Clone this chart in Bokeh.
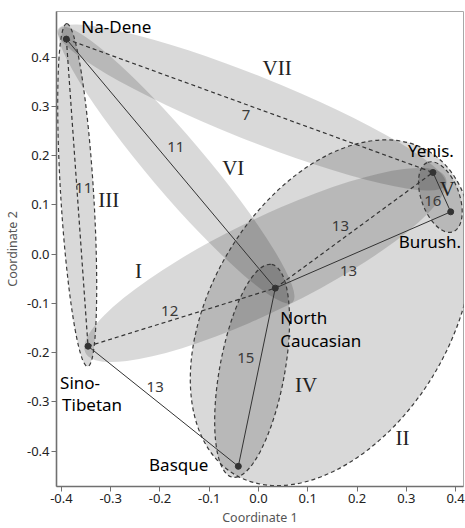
import math
from bokeh.plotting import figure
from bokeh.models import ColumnDataSource, Range1d, FixedTicker, NumeralTickFormatter
from bokeh.core.properties import value
from bokeh.embed import file_html
from bokeh.resources import INLINE

# ---------------- data ----------------
lang_names = ["Na-Dene", "Yenis.", "Burush.", "North Caucasian", "Basque", "Sino-Tibetan"]
coord1 = [-0.390, 0.354, 0.390, 0.034, -0.041, -0.346]
coord2 = [0.437, 0.166, 0.086, -0.069, -0.431, -0.187]

edge_from = ["Na-Dene", "Na-Dene", "Na-Dene", "Sino-Tibetan", "Sino-Tibetan",
             "Basque", "North Caucasian", "North Caucasian", "Yenis."]
edge_to = ["Yenis.", "North Caucasian", "Sino-Tibetan", "North Caucasian", "Basque",
           "North Caucasian", "Burush.", "Yenis.", "Burush."]
edge_weight = [7, 11, 11, 12, 13, 15, 13, 13, 16]
edge_dashed = [True, False, True, True, False, False, False, True, False]

group_names = ["I", "II", "III", "IV", "V", "VI", "VII"]
group_c1 = [0.014, 0.148, -0.368, -0.013, 0.369, -0.167, -0.014]
group_c2 = [-0.022, -0.119, 0.120, -0.237, 0.116, 0.181, 0.298]
group_len = [0.813, 0.765, 0.697, 0.439, 0.150, 0.730, 0.848]
group_wid = [0.187, 0.486, 0.067, 0.132, 0.077, 0.114, 0.130]
group_angle_deg = [26.0, 59.0, 93.5, 79.6, 110.0, -49.7, -21.8]
group_outlined = [False, True, True, True, True, False, False]

x_ticks = [-0.4, -0.3, -0.2, -0.1, 0.0, 0.1, 0.2, 0.3, 0.4]
y_ticks = [-0.4, -0.3, -0.2, -0.1, 0.0, 0.1, 0.2, 0.3, 0.4]

# ---------------- layout (pixel offsets for labels) ----------------
PX = 493.0  # approx. pixels per data unit (both axes)
lang_label_lines = [  # text, language, dx, dy (screen px, dy down), align
    ("Na-Dene", "Na-Dene", 15, -13, "left"),
    ("Yenis.", "Yenis.", -25, -22, "left"),
    ("Burush.", "Burush.", -52, 30, "left"),
    ("North", "North Caucasian", 5, 29, "left"),
    ("Caucasian", "North Caucasian", 5, 52, "left"),
    ("Sino-", "Sino-Tibetan", -28, 36, "left"),
    ("Tibetan", "Sino-Tibetan", -26, 58, "left"),
    ("Basque", "Basque", -30, -2, "right"),
]
edge_label_off = [(-3.5, 9), (5, -17), (6.5, -5), (-12, -6.5), (-8, -19),
                  (-11, -19.5), (-14.5, 21), (-13.7, -4.5), (-9, 9)]
group_label_off = [(-127, 6), (71, 125), (31.5, 5), (54, 14), (7, -8), (57, 3), (25.5, -39.5)]

# ---------------- figure ----------------
p = figure(width=465, height=528, title=None,
           x_range=Range1d(-0.41, 0.416), y_range=Range1d(-0.472, 0.493),
           output_backend="svg", toolbar_location=None,
           min_border_left=56, min_border_right=2, min_border_top=11, min_border_bottom=41)
p.grid.visible = False
p.outline_line_color = "#a8a8a8"
p.outline_line_width = 1
p.background_fill_color = "white"
p.border_fill_color = "white"

# group ellipses (fills)
ell = ColumnDataSource(dict(
    x=group_c1, y=group_c2, w=group_len, h=group_wid,
    a=[math.radians(d) for d in group_angle_deg]))
p.ellipse(x="x", y="y", width="w", height="h", angle="a", source=ell,
          fill_color="black", fill_alpha=0.15, line_color=None)

# dashed outlines
oi = [i for i, o in enumerate(group_outlined) if o]
ell_o = ColumnDataSource(dict(
    x=[group_c1[i] for i in oi], y=[group_c2[i] for i in oi],
    w=[group_len[i] for i in oi], h=[group_wid[i] for i in oi],
    a=[math.radians(group_angle_deg[i]) for i in oi]))
p.ellipse(x="x", y="y", width="w", height="h", angle="a", source=ell_o,
          fill_color=None, line_color="#3a3a3a", line_width=1.2, line_dash="4 3")

# edges
idx = {n: i for i, n in enumerate(lang_names)}
for k in range(len(edge_from)):
    a, b = idx[edge_from[k]], idx[edge_to[k]]
    p.line([coord1[a], coord1[b]], [coord2[a], coord2[b]],
           line_color="#333333", line_width=1.2 if edge_dashed[k] else 1.0,
           line_dash="4 3" if edge_dashed[k] else "solid")

# points
p.scatter(coord1, coord2, size=6, color="#333333")

# edge weight labels
ex, ey, et = [], [], []
for k in range(len(edge_from)):
    a, b = idx[edge_from[k]], idx[edge_to[k]]
    dx, dy = edge_label_off[k]
    ex.append((coord1[a] + coord1[b]) / 2 + dx / PX)
    ey.append((coord2[a] + coord2[b]) / 2 - dy / PX)
    et.append(str(edge_weight[k]))
p.text(x=ex, y=ey, text=et, text_font=value("Noto Sans"), text_font_size="15px",
       text_color="#3a3a3a", text_align="center", text_baseline="middle")

# group labels
gx = [group_c1[i] + group_label_off[i][0] / PX for i in range(len(group_names))]
gy = [group_c2[i] - group_label_off[i][1] / PX for i in range(len(group_names))]
p.text(x=gx, y=gy, text=group_names, text_font=value("Liberation Serif"),
       text_font_size="21px", text_color="#222222", text_align="center", text_baseline="middle")

# language labels
for txt, lang, dx, dy, al in lang_label_lines:
    i = idx[lang]
    p.text(x=[coord1[i] + dx / PX], y=[coord2[i] - dy / PX], text=[txt],
           text_font=value("Noto Sans"), text_font_size="17px", text_color="black",
           text_align=al, text_baseline="middle")

# axes
p.xaxis.ticker = FixedTicker(ticks=x_ticks)
p.yaxis.ticker = FixedTicker(ticks=y_ticks)
p.axis.formatter = NumeralTickFormatter(format="0.0")
p.xaxis.axis_label = "Coordinate 1"
p.yaxis.axis_label = "Coordinate 2"
for ax in (p.xaxis, p.yaxis):
    ax.axis_line_color = "#707070"
    ax.axis_line_width = 1.6
    ax.major_tick_line_color = "#707070"
    ax.major_tick_out = 5
    ax.major_tick_in = 0
    ax.minor_tick_line_color = None
    ax.major_label_text_font = "Noto Sans"
    ax.major_label_text_font_size = "13px"
    ax.major_label_text_color = "#222222"
    ax.major_label_standoff = 2
    ax.axis_label_text_font = "Noto Sans"
    ax.axis_label_text_font_size = "12.5px"
    ax.axis_label_text_font_style = "normal"
    ax.axis_label_text_color = "#555555"
    ax.axis_label_standoff = 3

open("out.html", "w").write(file_html(p, INLINE))
